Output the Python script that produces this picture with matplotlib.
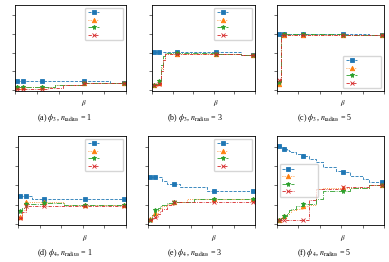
import matplotlib
matplotlib.use("Agg")
import matplotlib.pyplot as plt

plt.rcParams['font.family'] = ['Liberation Serif', 'DejaVu Serif']
plt.rcParams['mathtext.fontset'] = 'stix'

# beta grid (x values) shared by all panels
beta = [0.02, 0.04, 0.07, 0.09, 0.11, 0.13, 0.18, 0.24, 0.30, 0.36, 0.43,
        0.49, 0.55, 0.62, 0.68, 0.74, 0.80, 0.86, 0.92, 0.98, 1.0]
mark_idx = [0, 2, 7, 13, 19]

# (a) phi3, n_radius = 1
a_blue = [0.48]*17 + [0.40]*4
a_orange = [0.15]*9 + [0.27]*4 + [0.40]*8
a_green = [0.18]*9 + [0.27]*4 + [0.40]*8
a_red = [0.05]*8 + [0.12]*2 + [0.27]*3 + [0.40]*8

# (b) phi3, n_radius = 3
b_blue = [2.01]*17 + [1.90]*4
b_orange = [0.27, 0.27, 0.40, 1.20, 1.70] + [1.95]*12 + [1.90]*4
b_green = [0.27, 0.30, 0.48, 1.35, 1.80] + [2.00]*8 + [1.93]*4 + [1.90]*4
b_red = [0.27, 0.27, 0.30, 1.00, 1.60] + [1.93]*12 + [1.90]*4

# (c) phi3, n_radius = 5
c_blue = [3.02]*17 + [2.93]*4
c_orange = [0.30] + [2.93]*20
c_green = [0.45] + [3.00]*12 + [2.95]*8
c_red = [0.55] + [2.93]*20

# (d) phi4, n_radius = 1
d_blue = [1.43]*5 + [1.31]*16
d_orange = [0.38, 0.75] + [1.12]*8 + [0.99]*11
d_green = [0.66, 0.85] + [1.05]*5 + [1.10]*3 + [1.00]*11
d_red = [0.33, 0.60] + [0.92]*19

# (e) phi4, n_radius = 3
e_blue = [2.41]*5 + [2.25] + [2.09]*2 + [1.92]*4 + [1.71]*9
e_orange = [0.28, 0.40, 0.58, 0.70, 0.85, 0.95, 1.05, 1.15, 1.15] + [1.28]*12
e_green = [0.22, 0.45, 0.75, 0.85, 0.95, 1.00, 1.10, 1.15, 1.15, 1.15] + [1.30]*11
e_red = [0.22, 0.30, 0.37, 0.50, 0.65, 0.80, 1.00, 1.13] + [1.13]*13

# (f) phi4, n_radius = 5
f_blue = [4.03, 4.00, 3.90, 3.85, 3.75, 3.70, 3.60, 3.52, 3.35, 3.20, 2.93,
          2.93, 2.72, 2.71, 2.46, 2.46, 2.32, 2.15, 2.15, 2.15, 2.15]
f_orange = [0.22, 0.30, 0.39, 0.50, 0.60, 0.70, 0.80, 0.92, 1.00, 1.80, 1.88,
            1.88, 1.88, 1.88, 1.88, 1.88, 1.88, 2.00, 2.00, 2.00, 2.00]
f_green = [0.22, 0.30, 0.40, 0.55, 0.70, 0.80, 0.95, 1.05, 1.05, 1.27, 1.72,
           1.72, 1.72, 1.72, 1.88, 1.88, 1.88, 2.00, 2.00, 2.00, 2.00]
f_red = [0.22]*8 + [1.25] + [1.83]*4 + [1.92]*4 + [2.00]*4

captions = [r"(a) $\phi_3$, $n_{\rm radius}$ = 1", r"(b) $\phi_3$, $n_{\rm radius}$ = 3",
            r"(c) $\phi_3$, $n_{\rm radius}$ = 5", r"(d) $\phi_4$, $n_{\rm radius}$ = 1",
            r"(e) $\phi_4$, $n_{\rm radius}$ = 3", r"(f) $\phi_4$, $n_{\rm radius}$ = 5"]
panels = [(a_blue, a_orange, a_green, a_red), (b_blue, b_orange, b_green, b_red),
          (c_blue, c_orange, c_green, c_red), (d_blue, d_orange, d_green, d_red),
          (e_blue, e_orange, e_green, e_red), (f_blue, f_orange, f_green, f_red)]
legend_locs = ['upper right', 'upper right', 'lower right',
               'upper right', 'upper right', 'center left']

styles = [dict(color='#1f77b4', ls='--', marker='s', ms=3.2),
          dict(color='#ff7f0e', ls=':', marker='^', ms=3.2),
          dict(color='#2ca02c', ls='-.', marker='*', ms=3.6),
          dict(color='#d62728', ls=(0, (4, 1.5, 1, 1.5)), marker='x', ms=3.2)]

W, H = 389, 262
fig = plt.figure(figsize=(W/100, H/100), dpi=100)
# axes boxes in pixels: left, right, top, bottom
boxes = [(15, 126, 5, 91), (152, 255, 5, 91), (277, 384, 5, 91),
         (18, 126, 136, 225), (148, 255, 136, 225), (277, 384, 136, 225)]

for i, (box, series) in enumerate(zip(boxes, panels)):
    l, r, t, b = box
    ax = fig.add_axes([l/W, (H-b)/H, (r-l)/W, (b-t)/H])
    handles = []
    for ys, st in zip(series, styles):
        ln, = ax.plot(beta, ys, drawstyle='steps-post', lw=0.6,
                      markevery=mark_idx, mew=0.6, **st)
        handles.append(ln)
    ax.set_xlim(0, 1)
    ax.set_ylim(-0.05, 4.55)
    ax.set_xticks([0, 0.2, 0.4, 0.6, 0.8, 1.0])
    ax.set_yticks([0, 1, 2, 3, 4])
    ax.tick_params(length=2, width=0.5, labelbottom=False, labelleft=False,
                   color='#333333')
    for s in ax.spines.values():
        s.set_linewidth(0.6)
    ax.set_xlabel(r"$\beta$", fontsize=5)
    ax.xaxis.set_label_coords(0.62, -0.085)
    ax.legend(handles, [' ']*4, loc=legend_locs[i], fontsize=4,
              labelspacing=0.45, handletextpad=3.6, borderpad=0.45,
              handlelength=2.1, framealpha=0.8, edgecolor='#cccccc')
    row = i // 3
    col = i % 3
    cy = 117.5 if row == 0 else 253
    fig.text((col + 0.5)/3, 1 - cy/H, captions[i], ha='center', va='center',
             fontsize=5.8)

fig.savefig("out.png", dpi=100)
